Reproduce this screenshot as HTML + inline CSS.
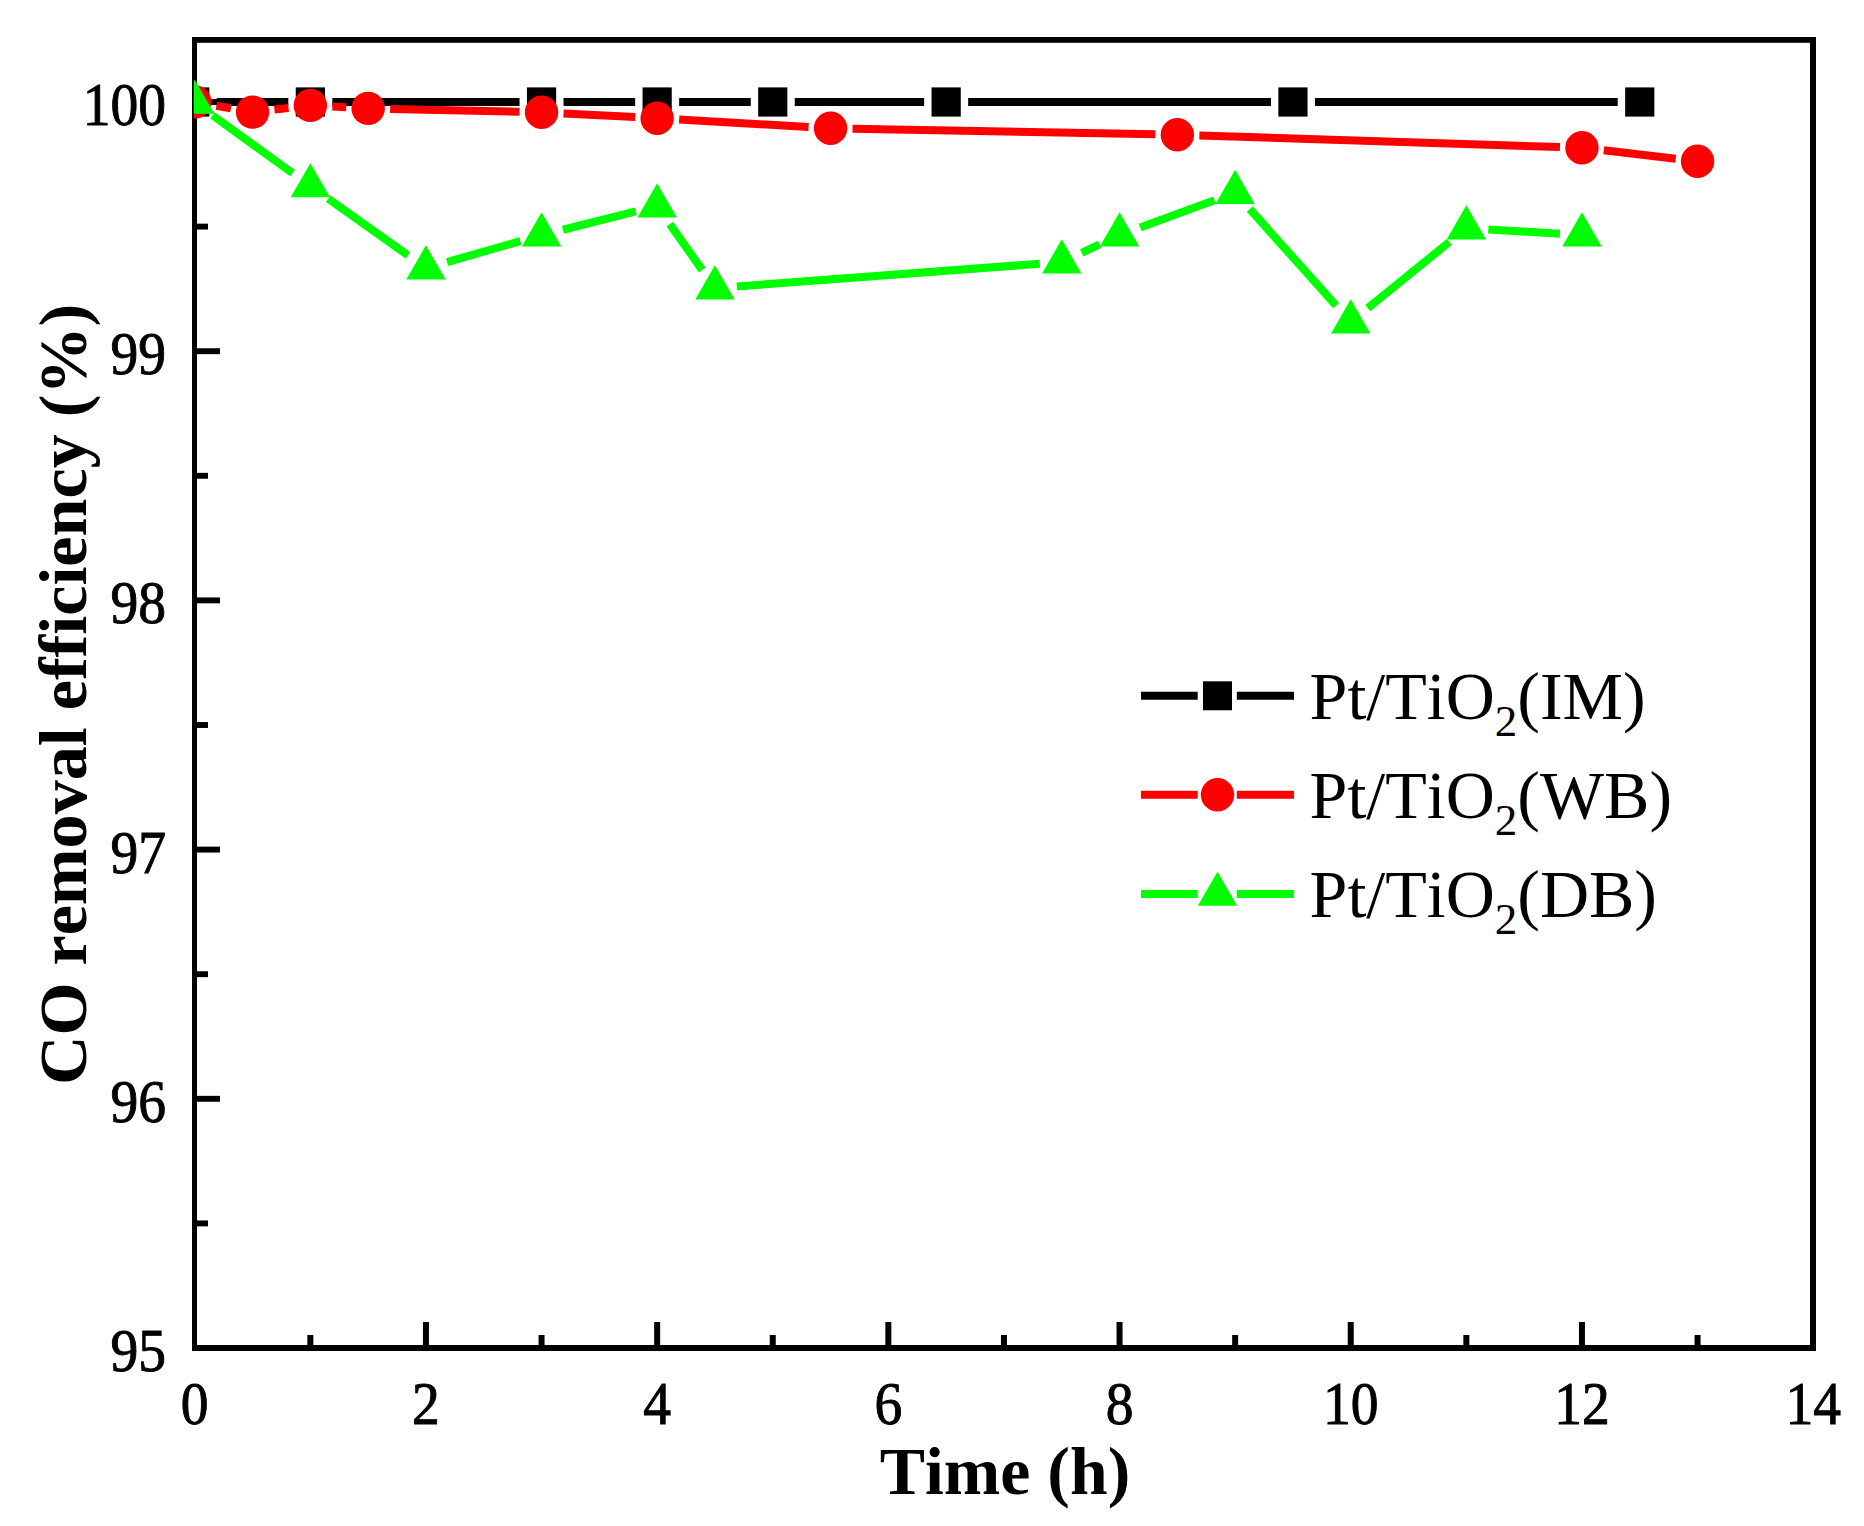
<!DOCTYPE html>
<html lang="en"><head><meta charset="utf-8"><title>CO removal efficiency</title>
<style>
html,body{margin:0;padding:0;background:#fff;}
body{width:1864px;height:1526px;overflow:hidden;}
svg{display:block;}
text{font-family:"Liberation Serif","Times New Roman",serif;fill:#000;font-kerning:none;font-variant-ligatures:none;}
.tk{font-size:58px;stroke:#000;stroke-width:0.9px;}
.ttl{font-size:67.8px;font-weight:bold;}
.lg{font-size:68px;}
</style></head><body>
<svg width="1864" height="1526" viewBox="0 0 1864 1526">
<rect width="1864" height="1526" fill="#fff"/>

<g fill="#000"><rect x="192" y="37" width="5" height="1314"/><rect x="192" y="37" width="1624" height="5.8"/><rect x="1810" y="37" width="6" height="1314"/><rect x="192" y="1345" width="1624" height="6"/></g>
<g fill="#000"><rect x="307.35" y="1335" width="6" height="13"/><rect x="422.95" y="1322" width="6" height="26"/><rect x="538.55" y="1335" width="6" height="13"/><rect x="654.15" y="1322" width="6" height="26"/><rect x="769.75" y="1335" width="6" height="13"/><rect x="885.35" y="1322" width="6" height="26"/><rect x="1000.95" y="1335" width="6" height="13"/><rect x="1116.55" y="1322" width="6" height="26"/><rect x="1232.15" y="1335" width="6" height="13"/><rect x="1347.75" y="1322" width="6" height="26"/><rect x="1463.35" y="1335" width="6" height="13"/><rect x="1578.95" y="1322" width="6" height="26"/><rect x="1694.55" y="1335" width="6" height="13"/><rect x="194" y="1220.45" width="14" height="5.9"/><rect x="194" y="1095.85" width="26" height="5.9"/><rect x="194" y="971.25" width="14" height="5.9"/><rect x="194" y="846.65" width="26" height="5.9"/><rect x="194" y="722.05" width="14" height="5.9"/><rect x="194" y="597.45" width="26" height="5.9"/><rect x="194" y="472.85" width="14" height="5.9"/><rect x="194" y="348.25" width="26" height="5.9"/><rect x="194" y="223.65" width="14" height="5.9"/><rect x="194" y="99.05" width="26" height="5.9"/></g>
<text class="tk" text-anchor="middle" transform="translate(194.75,1424.20) scale(0.958,1.04)">0</text>
<text class="tk" text-anchor="middle" transform="translate(425.95,1424.20) scale(0.958,1.04)">2</text>
<text class="tk" text-anchor="middle" transform="translate(657.15,1424.20) scale(0.958,1.04)">4</text>
<text class="tk" text-anchor="middle" transform="translate(888.35,1424.20) scale(0.958,1.04)">6</text>
<text class="tk" text-anchor="middle" transform="translate(1119.55,1424.20) scale(0.958,1.04)">8</text>
<text class="tk" text-anchor="middle" transform="translate(1350.75,1424.20) scale(0.958,1.04)">10</text>
<text class="tk" text-anchor="middle" transform="translate(1581.95,1424.20) scale(0.958,1.04)">12</text>
<text class="tk" text-anchor="middle" transform="translate(1813.15,1424.20) scale(0.958,1.04)">14</text>
<text class="tk" text-anchor="end" transform="translate(166.00,1371.00) scale(0.958,1.04)">95</text>
<text class="tk" text-anchor="end" transform="translate(166.00,1121.80) scale(0.958,1.04)">96</text>
<text class="tk" text-anchor="end" transform="translate(166.00,872.60) scale(0.958,1.04)">97</text>
<text class="tk" text-anchor="end" transform="translate(166.00,623.40) scale(0.958,1.04)">98</text>
<text class="tk" text-anchor="end" transform="translate(166.00,374.20) scale(0.958,1.04)">99</text>
<text class="tk" text-anchor="end" transform="translate(166.00,125.00) scale(0.958,1.04)">100</text>
<text class="ttl" text-anchor="middle" x="1005" y="1494">Time (h)</text>
<text class="ttl" style="font-size:68.1px" text-anchor="middle" transform="translate(86.3,694.3) rotate(-90)">CO removal efficiency (%)</text>
<clipPath id="cp"><rect x="193.75" y="0" width="1864" height="1526"/></clipPath>
<g clip-path="url(#cp)">
<g stroke="#000" stroke-width="8.0" fill="none"><line x1="216.75" y1="102.00" x2="288.35" y2="102.00"/><line x1="332.35" y1="102.00" x2="519.55" y2="102.00"/><line x1="563.55" y1="102.00" x2="635.15" y2="102.00"/><line x1="679.15" y1="102.00" x2="750.75" y2="102.00"/><line x1="794.75" y1="102.00" x2="924.15" y2="102.00"/><line x1="968.15" y1="102.00" x2="1270.95" y2="102.00"/><line x1="1314.95" y1="102.00" x2="1617.75" y2="102.00"/></g>
<g fill="#000"><rect x="180.15" y="87.40" width="29.2" height="29.2"/><rect x="295.75" y="87.40" width="29.2" height="29.2"/><rect x="526.95" y="87.40" width="29.2" height="29.2"/><rect x="642.55" y="87.40" width="29.2" height="29.2"/><rect x="758.15" y="87.40" width="29.2" height="29.2"/><rect x="931.55" y="87.40" width="29.2" height="29.2"/><rect x="1278.35" y="87.40" width="29.2" height="29.2"/><rect x="1625.15" y="87.40" width="29.2" height="29.2"/></g>
<g stroke="#f00" stroke-width="8.0" fill="none"><line x1="216.42" y1="105.79" x2="230.88" y2="108.31"/><line x1="274.40" y1="109.57" x2="288.50" y2="107.93"/><line x1="332.32" y1="106.54" x2="346.18" y2="107.26"/><line x1="390.14" y1="108.89" x2="519.56" y2="111.76"/><line x1="563.52" y1="113.39" x2="635.18" y2="117.11"/><line x1="679.11" y1="119.52" x2="808.59" y2="126.98"/><line x1="852.55" y1="128.66" x2="1155.35" y2="134.34"/><line x1="1199.34" y1="135.46" x2="1559.96" y2="147.04"/><line x1="1603.80" y1="150.30" x2="1675.70" y2="158.70"/></g>
<g fill="#f00"><circle cx="194.75" cy="102.00" r="16.7"/><circle cx="252.55" cy="112.10" r="16.7"/><circle cx="310.35" cy="105.40" r="16.7"/><circle cx="368.15" cy="108.40" r="16.7"/><circle cx="541.55" cy="112.25" r="16.7"/><circle cx="657.15" cy="118.25" r="16.7"/><circle cx="830.55" cy="128.25" r="16.7"/><circle cx="1177.35" cy="134.75" r="16.7"/><circle cx="1581.95" cy="147.75" r="16.7"/><circle cx="1697.55" cy="161.25" r="16.7"/></g>
<g stroke="#0f0" stroke-width="8.0" fill="none"><line x1="212.58" y1="115.38" x2="292.52" y2="173.12"/><line x1="328.29" y1="198.74" x2="408.01" y2="255.36"/><line x1="447.10" y1="262.06" x2="520.40" y2="241.14"/><line x1="562.89" y1="229.75" x2="635.81" y2="211.45"/><line x1="669.82" y1="224.08" x2="702.28" y2="270.12"/><line x1="736.89" y1="286.46" x2="1039.81" y2="263.74"/><line x1="1081.68" y1="252.79" x2="1099.62" y2="244.41"/><line x1="1140.20" y1="227.51" x2="1214.50" y2="200.19"/><line x1="1249.80" y1="209.01" x2="1336.10" y2="305.69"/><line x1="1367.82" y1="308.22" x2="1449.28" y2="241.98"/><line x1="1488.31" y1="229.43" x2="1559.99" y2="233.77"/></g>
<g fill="#0f0"><polygon points="194.75,79.75 175.05,113.87 214.45,113.87"/><polygon points="310.35,163.25 290.65,197.37 330.05,197.37"/><polygon points="425.95,245.35 406.25,279.47 445.65,279.47"/><polygon points="541.55,212.35 521.85,246.47 561.25,246.47"/><polygon points="657.15,183.35 637.45,217.47 676.85,217.47"/><polygon points="714.95,265.35 695.25,299.47 734.65,299.47"/><polygon points="1061.75,239.35 1042.05,273.47 1081.45,273.47"/><polygon points="1119.55,212.35 1099.85,246.47 1139.25,246.47"/><polygon points="1235.15,169.85 1215.45,203.97 1254.85,203.97"/><polygon points="1350.75,299.35 1331.05,333.47 1370.45,333.47"/><polygon points="1466.35,205.35 1446.65,239.47 1486.05,239.47"/><polygon points="1581.95,212.35 1562.25,246.47 1601.65,246.47"/></g>
</g>
<g stroke="#000" stroke-width="8"><line x1="1141" y1="695.8" x2="1197.7" y2="695.8"/><line x1="1236.8" y1="695.8" x2="1294" y2="695.8"/></g>
<g fill="#000"><rect x="1203.00" y="681.30" width="29" height="29"/></g>
<text class="lg" x="1309.6" y="718.5">Pt/TiO<tspan font-size="45" dy="17">2</tspan><tspan dy="-17">(IM)</tspan></text>
<g stroke="#f00" stroke-width="8"><line x1="1141" y1="794.8" x2="1197.7" y2="794.8"/><line x1="1236.8" y1="794.8" x2="1294" y2="794.8"/></g>
<g fill="#f00"><circle cx="1217.50" cy="794.80" r="16.7"/></g>
<text class="lg" x="1309.6" y="817.5">Pt/TiO<tspan font-size="45" dy="17">2</tspan><tspan dy="-17">(WB)</tspan></text>
<g stroke="#0f0" stroke-width="8"><line x1="1141" y1="894.1" x2="1197.7" y2="894.1"/><line x1="1236.8" y1="894.1" x2="1294" y2="894.1"/></g>
<g fill="#0f0"><polygon points="1217.50,871.65 1197.80,905.77 1237.20,905.77"/></g>
<text class="lg" x="1309.6" y="916.8">Pt/TiO<tspan font-size="45" dy="17">2</tspan><tspan dy="-17">(DB)</tspan></text>
</svg></body></html>
